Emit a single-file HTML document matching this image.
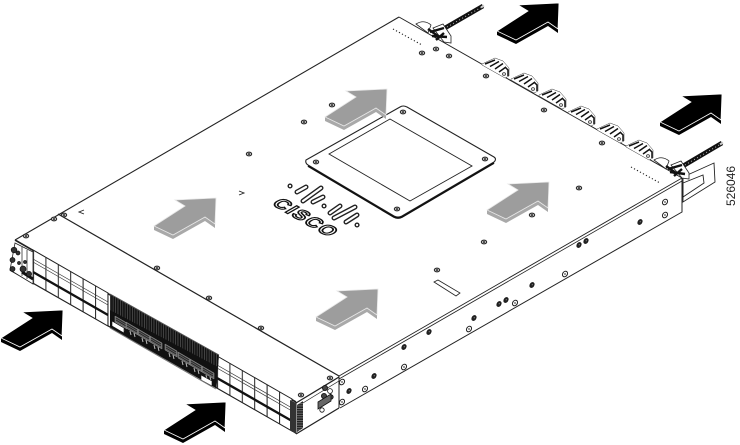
<!DOCTYPE html>
<html><head><meta charset="utf-8"><style>
html,body{margin:0;padding:0;background:#fff}
svg{display:block}
</style></head><body>
<svg width="740" height="445" viewBox="0 0 740 445" xmlns="http://www.w3.org/2000/svg">
<defs>
<g id="top"><polygon points="0,0 -41,2 -31,8 -62,28 -43,37 -11,19 -1,26"/></g>
<g id="ext"><polygon points="-62,28 -62,32 -43,41 -11,23 -1,30 -1,26 -11,19 -43,37"/></g>
<g id="s"><ellipse cx="0" cy="0" rx="2.7" ry="1.9" fill="#bbb" stroke="#222" stroke-width="1"/><ellipse cx="0" cy="0" rx="1.1" ry=".8" fill="#111"/></g>
<g id="d"><ellipse cx="0" cy="0" rx="2.8" ry="2" transform="rotate(-55)" fill="#222" stroke="#111" stroke-width=".6"/><circle cx=".3" cy="-.3" r=".6" fill="#888"/></g>
<g id="o"><ellipse cx="0" cy="0" rx="3" ry="2.3" transform="rotate(-55)" fill="#fff" stroke="#222" stroke-width="1"/><circle r=".9" fill="#555"/></g>
<g id="clip">
<polygon points="0,0 13,-6 21,-3 27,4 27,12 23,14 0,1" fill="#fff" stroke="#333" stroke-width=".5"/>
<path d="M3,0 L13,-4 M8,2.500 L17,-2.500 M13,5 L21,-.5 M17,8 L24,3" stroke="#111" stroke-width="1.500" fill="none"/>
<path d="M23,3 L26,6 L26,12" stroke="#111" stroke-width="1.500" fill="none"/>
<circle cx="22" cy="10" r="1.500" fill="#ccc" stroke="#111" stroke-width=".6"/>
</g>
<pattern id="vg" width="12.4" height="40" patternUnits="userSpaceOnUse" patternTransform="matrix(1 .575 0 1 33 250)">
<rect width="12.4" height="40" fill="#fff"/><rect width="1" height="40" fill="#222"/>
</pattern>
<pattern id="vg2" width="12.4" height="40" patternUnits="userSpaceOnUse" patternTransform="matrix(1 .575 0 1 217 356)">
<rect width="12.4" height="40" fill="#fff"/><rect width="1" height="40" fill="#222"/>
</pattern>
<pattern id="hatch" width="2.4" height="40" patternUnits="userSpaceOnUse" patternTransform="matrix(1 .575 0 1 0 0)">
<rect width="2.4" height="40" fill="#111"/><rect width=".7" height="40" fill="#555"/>
</pattern>
<pattern id="vent" width="6" height="2.4" patternUnits="userSpaceOnUse">
<rect width="6" height="2.4" fill="#222"/><rect width="6" height=".7" fill="#888"/>
</pattern>
<g id="pt">
<polygon points="0,0 12,7 12,13 0,6" fill="#666" stroke="#999" stroke-width=".5"/>
<path d="M1,2 L11,8 M1,4 L11,10" stroke="#222" stroke-width=".8"/>
<path d="M4,9 L5,13 M8,11 L9,15" stroke="#bbb" stroke-width="1"/>
</g>
</defs>

<!-- bracket -->
<g fill="none" stroke="#222" stroke-width=".9">
<polygon points="683,177 714,163 715,182 683,202" fill="#fff"/>
<polygon points="683,183 703,175 704,183 683,197"/>
</g>

<!-- chassis body -->
<polygon points="399,17 682,178 682,212 339,408 296,434 10,270 15,240" fill="#fff"/>
<g fill="none" stroke="#222">
<path d="M15,240 L399,17" stroke-width="1.1"/>
<path d="M399,17 L682,178 L682,212 L340,408" stroke-width="1"/>
<path d="M339,376 L682,178" stroke-width=".9"/>
<path d="M339,379 L682,181" stroke-width=".8"/>
<path d="M58,214 L339,376" stroke-width="1.2"/>
<path d="M339,376 L339,408" stroke-width="1"/>
<path d="M296,403 L339,377" stroke-width="1.3"/>
<path d="M298,406 L339,381" stroke-width=".7"/>
<path d="M296,434 L339,408" stroke-width="1.3"/>
<path d="M15,240 L296,402" stroke-width="1.6"/>
<path d="M10,270 L296,433" stroke-width="1.4"/>
<path d="M296,402 L296,434" stroke-width="1"/>
</g>

<!-- front port grids -->
<polygon points="33,250 108,293 108,326 33,283" fill="url(#vg)" stroke="#222" stroke-width="1"/>
<polygon points="217,356 292,399 292,431 217,388" fill="url(#vg2)" stroke="#222" stroke-width="1"/>
<g fill="none" stroke="#333">
<path d="M33,259 L108,302 M33,262 L108,305" stroke-width=".7"/>
<path d="M217,365 L292,408 M217,368 L292,411" stroke-width=".7"/>
<path d="M33,272 L108,315" stroke-width="2.400" stroke="#111"/>
<path d="M217,378 L292,421" stroke-width="2.400" stroke="#111"/>
</g>

<!-- left end -->
<polygon points="15,243 33,252 33,284 10,270" fill="#fff" stroke="#222" stroke-width=".8"/>
<path d="M22,247 L22,276 M27,250 L27,279" stroke="#333" stroke-width=".8"/>
<path d="M22,272 L33,279" stroke="#111" stroke-width="3"/>
<g fill="#333" stroke="#111" stroke-width=".7">
<circle cx="14" cy="250" r="2.800"/><circle cx="12.500" cy="260" r="2.500"/><circle cx="12.500" cy="269" r="2.500"/>
<circle cx="18" cy="253" r="2"/><circle cx="23" cy="269" r="3"/><circle cx="29" cy="274" r="2.600"/><circle cx="19" cy="263" r="1.500"/><circle cx="25" cy="262" r="1.500"/>
</g>

<!-- center dark band -->
<polygon points="110,294 219,355 216,388 110,327" fill="#111"/>
<polygon points="110,294 219,355 218,367 110,310" fill="url(#hatch)"/>
<path d="M110,294 L219,355" stroke="#555" stroke-width="1"/>
<use href="#pt" x="115" y="316"/><use href="#pt" x="126" y="322"/><use href="#pt" x="138" y="329"/><use href="#pt" x="150" y="336"/>
<use href="#pt" x="165" y="344"/><use href="#pt" x="178" y="352"/><use href="#pt" x="190" y="359"/><use href="#pt" x="202" y="366"/>
<polygon points="112,321 124,328 124,333 112,326" fill="#fff" stroke="#111" stroke-width=".6"/>
<polygon points="201,375 212,381 212,386 201,380" fill="#fff" stroke="#111" stroke-width=".6"/>
<path d="M110,328 L216,389" stroke="#777" stroke-width="1"/>

<!-- right ear -->
<polygon points="290,400 296,403 296,434 290,430" fill="#333"/>
<polygon points="297,405 303,401 303,428 297,432" fill="url(#vent)"/>
<g stroke="#111" stroke-width=".8" fill="#fff">
<circle cx="330" cy="391" r="2.400"/><circle cx="325" cy="388" r="2.600" fill="#444"/><circle cx="324" cy="396" r="2.600" fill="#444"/><circle cx="331" cy="397" r="2.200" fill="#444"/>
<polygon points="318,402 331,394 331,401 318,409" fill="#666"/>
<circle cx="322" cy="410" r="2.200"/>
</g>

<!-- rear edge: dashes -->
<path d="M393,29 L422,45" stroke="#222" stroke-width="1.1" stroke-dasharray="1.2 2.2" fill="none"/>
<path d="M631,167 L660,183" stroke="#222" stroke-width="1.1" stroke-dasharray="1.2 2.2" fill="none"/>

<!-- clips -->
<use href="#clip" x="482" y="64"/><use href="#clip" x="511" y="79"/><use href="#clip" x="539" y="95"/>
<use href="#clip" x="568" y="112"/><use href="#clip" x="597" y="129"/><use href="#clip" x="626" y="146"/>

<!-- cable ties -->
<g>
<path d="M445,28 L483,6" stroke="#111" stroke-width="4.500"/>
<path d="M447,27 L481,7.500" stroke="#bbb" stroke-width="1" stroke-dasharray="1 2.500"/>
<path d="M683,166 L722,143" stroke="#111" stroke-width="4.500"/>
<path d="M685,165 L720,144.500" stroke="#bbb" stroke-width="1" stroke-dasharray="1 2.500"/>
<path d="M481,7.500 L484,5.500 M720,144.500 L723,142.500" stroke="#ccc" stroke-width="2"/>
<g fill="#fff" stroke="#222" stroke-width=".8">
<path d="M416,24 Q424,19 431,25 L428,33 Z"/>
<path d="M654,160 Q662,155 669,161 L666,169 Z"/>
<polygon points="433,28 443,24 451,36 451,43 444,42"/>
<polygon points="671,165 681,161 689,173 689,179 682,178"/>
</g>
<path d="M430,32 L444,28 M432,36 L447,37 M436,40 L444,33 M428,29 L438,36" stroke="#111" stroke-width="2.400"/>
<path d="M668,169 L682,165 M670,172 L685,174 M674,176 L682,169 M666,166 L676,173" stroke="#111" stroke-width="2.400"/>
</g>

<!-- panel -->
<path d="M306,160 Q305,163 308,165 L394,216 Q398,218 402,216 L494,162 Q497,159 494,157 L407,107 Q403,105 400,107 Z" fill="#fff" stroke="#222" stroke-width="1.1"/>
<path d="M308,166 L394,217 Q398,219 402,217 L494,163" fill="none" stroke="#111" stroke-width="1.8"/>
<polygon points="329,154 390,119 472,166 410,201" fill="#fff" stroke="#222" stroke-width=".9"/>
<use href="#s" x="316" y="162"/><use href="#s" x="403" y="112"/><use href="#s" x="485" y="159"/><use href="#s" x="397" y="209"/>

<!-- logo -->
<g stroke-linecap="round" fill="none">
<g stroke="#222" stroke-width="5">
<path d="M297,192 L306,187 M303,201 L321,188 M313,202 L323,197 M330,213 L340,206 M334,218 L355,207 M346,222 L357,215 M290,186 h.1 M324,206 h.1 M357,225 h.1"/>
</g>
<g stroke="#fff" stroke-width="2.200">
<path d="M297,192 L306,187 M303,201 L321,188 M313,202 L323,197 M330,213 L340,206 M334,218 L355,207 M346,222 L357,215 M290,186 h.1 M324,206 h.1 M357,225 h.1"/>
</g>
</g>
<text transform="matrix(.87 .5 -.87 .5 271 204)" font-family="'Liberation Sans',sans-serif" font-weight="700" font-size="19" letter-spacing="1.500" fill="#fff" stroke="#111" stroke-width="1.500">CISCO</text>

<!-- top screws -->
<use href="#s" x="54" y="219"/><use href="#s" x="64" y="215"/><use href="#s" x="26" y="236"/>
<use href="#s" x="157" y="268"/><use href="#s" x="209" y="298"/><use href="#s" x="261" y="328"/>
<use href="#s" x="330" y="378"/><use href="#s" x="301" y="395"/>
<use href="#s" x="422" y="53"/><use href="#s" x="436" y="49"/><use href="#s" x="449" y="56"/>
<use href="#s" x="486" y="76"/><use href="#s" x="544" y="110"/><use href="#s" x="602" y="143"/>
<use href="#s" x="579" y="188"/><use href="#s" x="532" y="215"/>
<use href="#s" x="332" y="105"/><use href="#s" x="304" y="122"/><use href="#s" x="249" y="154"/>
<use href="#s" x="484" y="242"/><use href="#s" x="437" y="270"/>

<!-- chevrons -->
<path d="M84,210 L79,212 L84,214" fill="none" stroke="#222" stroke-width=".9"/>
<path d="M239,191 L244,193 L239,195" fill="none" stroke="#222" stroke-width=".9"/>

<!-- slot -->
<polygon points="434,282 438,280 460,293 456,296" fill="#fff" stroke="#222" stroke-width=".8"/>

<!-- side screws -->
<use href="#d" x="404" y="347"/><use href="#d" x="429" y="332"/><use href="#d" x="474" y="318"/>
<use href="#d" x="506" y="300"/><use href="#d" x="499" y="304"/><use href="#d" x="532" y="285"/>
<use href="#d" x="586" y="241"/><use href="#d" x="579" y="245"/><use href="#d" x="374" y="376"/><use href="#d" x="349" y="391"/>
<use href="#d" x="640" y="222"/>
<use href="#o" x="404" y="367"/><use href="#o" x="365" y="389"/><use href="#o" x="469" y="329"/>
<use href="#o" x="515" y="303"/><use href="#o" x="565" y="274"/><use href="#o" x="342" y="382"/><use href="#o" x="342" y="402"/>
<use href="#o" x="665" y="202"/><use href="#o" x="665" y="215"/>

<!-- gray arrows -->
<g fill="#a9a9a9"><use href="#ext" x="216" y="198"/><use href="#ext" x="378" y="289"/><use href="#ext" x="549" y="182"/><use href="#ext" x="387" y="89"/></g>
<g fill="#9d9d9d" stroke="#e8e8e8" stroke-width=".8"><use href="#top" x="216" y="198"/><use href="#top" x="378" y="289"/><use href="#top" x="549" y="182"/><use href="#top" x="387" y="89"/></g>

<!-- black arrows -->
<g fill="#000"><use href="#ext" x="63" y="310"/><use href="#ext" x="226" y="402"/><use href="#ext" x="559" y="3"/><use href="#ext" x="722" y="94"/></g>
<g fill="#000" stroke="#fff" stroke-width=".8"><use href="#top" x="63" y="310"/><use href="#top" x="226" y="402"/><use href="#top" x="559" y="3"/><use href="#top" x="722" y="94"/></g>

<text transform="translate(735 206) rotate(-90)" font-family="'Liberation Sans',sans-serif" font-size="12" fill="#222">526046</text>
</svg>
</body></html>
